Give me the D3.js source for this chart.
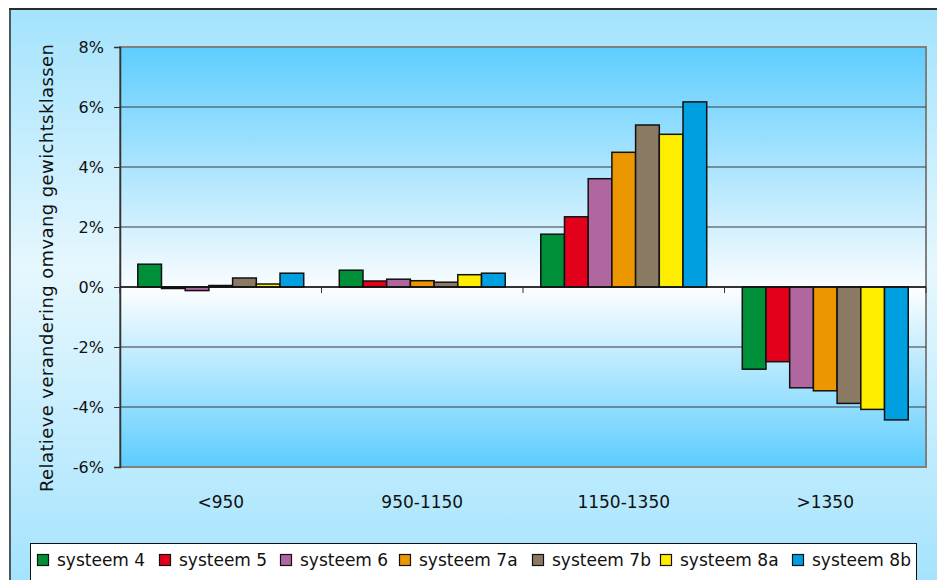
<!DOCTYPE html>
<html>
<head>
<meta charset="utf-8">
<script src="https://cdn.jsdelivr.net/npm/d3@7"></script>
<style>
  body { margin: 0; background: #fff; }
  svg { display: block; font-family: "DejaVu Sans", Verdana, sans-serif; }
</style>
</head>
<body>
<script>
// categories and series
let categories = ["<950", "950-1150", "1150-1350", ">1350"];
let seriesNames = ["systeem 4", "systeem 5", "systeem 6", "systeem 7a", "systeem 7b", "systeem 8a", "systeem 8b"];
let seriesColors = ["#008f39", "#e2001a", "#b0679f", "#ec9600", "#8a7a63", "#ffed00", "#009fe0"];

// values in % per series, one value per category
let systeem4 = [0.76, 0.56, 1.76, -2.74];
let systeem5 = [-0.05, 0.20, 2.34, -2.49];
let systeem6 = [-0.12, 0.26, 3.61, -3.36];
let systeem7a = [0.05, 0.21, 4.49, -3.46];
let systeem7b = [0.30, 0.16, 5.40, -3.88];
let systeem8a = [0.10, 0.41, 5.09, -4.08];
let systeem8b = [0.46, 0.46, 6.17, -4.43];
let yTicks = [-6, -4, -2, 0, 2, 4, 6, 8];

let values = [systeem4, systeem5, systeem6, systeem7a, systeem7b, systeem8a, systeem8b];

let width = 937, height = 580;
let plot = {left: 120, top: 47, right: 926, bottom: 467};
let font = "DejaVu Sans, Verdana, sans-serif";

let svg = d3.select("body").append("svg").attr("width", width).attr("height", height);
let defs = svg.append("defs");

let outerGrad = defs.append("linearGradient").attr("id", "outerGrad").attr("x1", 0).attr("y1", 0).attr("x2", 0).attr("y2", 1);
outerGrad.append("stop").attr("offset", "0%").attr("stop-color", "#a3e3fd");
outerGrad.append("stop").attr("offset", "45%").attr("stop-color", "#e6f7fe");
outerGrad.append("stop").attr("offset", "100%").attr("stop-color", "#a3e3fd");

let plotGrad = defs.append("linearGradient").attr("id", "plotGrad").attr("x1", 0).attr("y1", 0).attr("x2", 0).attr("y2", 1);
plotGrad.append("stop").attr("offset", "0%").attr("stop-color", "#5ecdfe");
plotGrad.append("stop").attr("offset", "58%").attr("stop-color", "#fbfdff");
plotGrad.append("stop").attr("offset", "100%").attr("stop-color", "#5ccdfe");

// outer chart area
svg.append("rect").attr("x", 9).attr("y", 8).attr("width", width).attr("height", height)
  .attr("fill", "url(#outerGrad)");
svg.append("line").attr("x1", 9).attr("x2", width).attr("y1", 9).attr("y2", 9)
  .attr("stroke", "#2b2b2b").attr("stroke-width", 2);
svg.append("line").attr("x1", 10).attr("x2", 10).attr("y1", 8).attr("y2", height)
  .attr("stroke", "#2b2b2b").attr("stroke-width", 1.5);

let y = d3.scaleLinear().domain([-6, 8]).range([plot.bottom, plot.top]);
let x0 = d3.scaleBand().domain(categories).range([plot.left, plot.right]);
let barW = x0.bandwidth() / 8.5;
let x1 = d3.scaleBand().domain(seriesNames)
  .range([barW * 0.75, x0.bandwidth() - barW * 0.75]);

// plot area
svg.append("rect").attr("x", plot.left).attr("y", plot.top)
  .attr("width", plot.right - plot.left).attr("height", plot.bottom - plot.top)
  .attr("fill", "url(#plotGrad)").attr("stroke", "#808080").attr("stroke-width", 2);

// gridlines
svg.append("g").selectAll("line").data(yTicks.filter(d => d != -6 && d != 8)).enter().append("line")
  .attr("x1", plot.left).attr("x2", plot.right)
  .attr("y1", d => y(d)).attr("y2", d => y(d))
  .attr("stroke", "#3a3a3a").attr("stroke-width", 1);

// y axis
let yAxis = svg.append("g").attr("transform", "translate(" + plot.left + ",0)")
  .call(d3.axisLeft(y).tickValues(yTicks).tickSize(6).tickPadding(10).tickFormat(d => d + "%"));
yAxis.select(".domain").attr("stroke", "#333").attr("stroke-width", 1.5);
yAxis.selectAll(".tick line").attr("stroke", "#333");
yAxis.selectAll("text").attr("font-size", 16).attr("fill", "#111").attr("font-family", font);

// bars
let groups = svg.append("g").selectAll("g").data(categories).enter().append("g")
  .attr("transform", d => "translate(" + x0(d) + ",0)");
groups.selectAll("rect")
  .data((c, ci) => seriesNames.map((s, si) => ({s: s, si: si, v: values[si][ci]})))
  .enter().append("rect")
    .attr("x", d => x1(d.s))
    .attr("width", x1.bandwidth())
    .attr("y", d => y(Math.max(0, d.v)))
    .attr("height", d => Math.abs(y(d.v) - y(0)))
    .attr("fill", d => seriesColors[d.si])
    .attr("stroke", "#111").attr("stroke-width", 1.5);

// category axis at zero
svg.append("line").attr("x1", plot.left).attr("x2", plot.right)
  .attr("y1", y(0)).attr("y2", y(0)).attr("stroke", "#111").attr("stroke-width", 1.5);
let bounds = categories.map(c => x0(c)).concat([plot.right]);
svg.append("g").selectAll("line").data(bounds).enter().append("line")
  .attr("x1", d => d).attr("x2", d => d)
  .attr("y1", y(0)).attr("y2", y(0) + 6)
  .attr("stroke", "#333").attr("stroke-width", 1);

svg.append("g").selectAll("text").data(categories).enter().append("text")
  .attr("x", d => x0(d) + x0.bandwidth() / 2)
  .attr("y", 508)
  .attr("text-anchor", "middle")
  .attr("font-size", 17).attr("fill", "#111").attr("font-family", font)
  .text(d => d);

// y title
svg.append("text")
  .attr("transform", "translate(53,268) rotate(-90)")
  .attr("text-anchor", "middle")
  .attr("font-size", 18).attr("fill", "#111").attr("font-family", font)
  .attr("textLength", 448).attr("lengthAdjust", "spacing")
  .text("Relatieve verandering omvang gewichtsklassen");

// legend
let legend = svg.append("g");
legend.append("rect").attr("x", 30.5).attr("y", 543.5).attr("width", 886).attr("height", 60)
  .attr("fill", "#fff").attr("stroke", "#111").attr("stroke-width", 1);
let legendX = [37, 159, 280, 399, 532, 660, 792];
let items = legend.selectAll("g.item").data(seriesNames).enter().append("g")
  .attr("class", "item")
  .attr("transform", (d, i) => "translate(" + legendX[i] + ",554)");
items.append("rect").attr("x", 0.5).attr("y", 0.5).attr("width", 11).attr("height", 11)
  .attr("fill", (d, i) => seriesColors[i]).attr("stroke", "#111").attr("stroke-width", 1.2);
items.append("text").attr("x", 20).attr("y", 12)
  .attr("font-size", 17).attr("fill", "#111").attr("font-family", font)
  .text(d => d);
</script>
</body>
</html>
